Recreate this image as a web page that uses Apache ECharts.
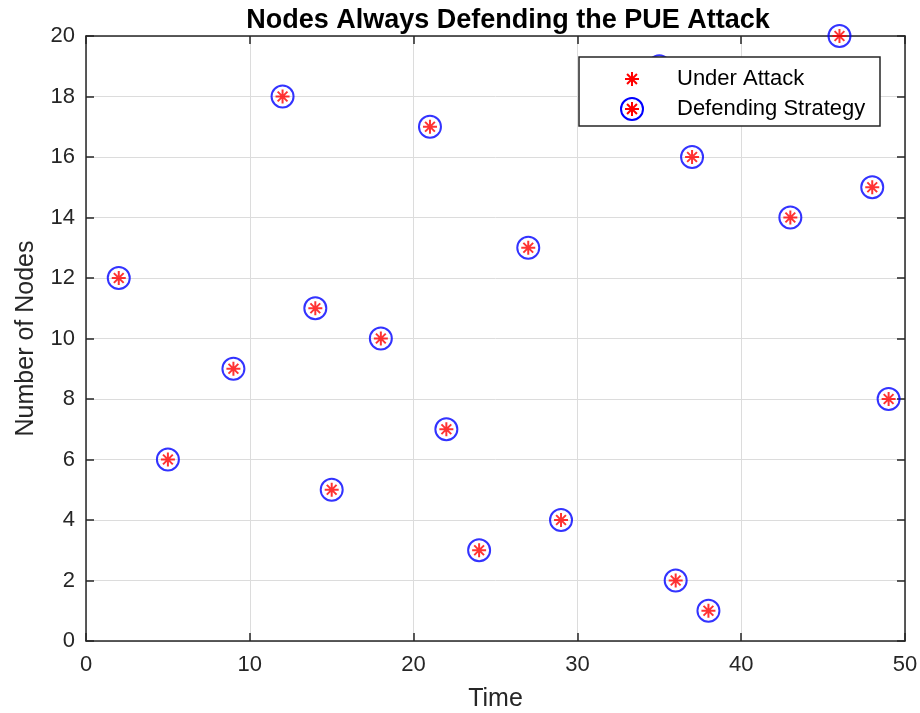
<!DOCTYPE html>
<html>
<head>
<meta charset="utf-8">
<script src="https://cdn.jsdelivr.net/npm/echarts@6/dist/echarts.min.js"></script>
<style>html,body{margin:0;padding:0;background:#fff}#c{width:920px;height:713px}</style>
</head>
<body>
<div id="c"></div>
<script>
// Time steps and the number of nodes under attack at each step
const times = [2, 5, 9, 12, 14, 15, 18, 21, 22, 24, 27, 29, 35, 36, 37, 38, 43, 46, 48, 49];
const nodes = [12, 6, 9, 18, 11, 5, 10, 17, 7, 3, 13, 4, 19, 2, 16, 1, 14, 20, 15, 8];
const xTicks = [0, 10, 20, 30, 40, 50];
const yTicks = [0, 2, 4, 6, 8, 10, 12, 14, 16, 18, 20];

const points = times.map((t, i) => [t, nodes[i]]);
const STAR = 'path://M0,-10L0,10M-10,0L10,0M-7,-7L7,7M-7,7L7,-7';
const axisColor = '#262626';
const font = 'Arial, "Liberation Sans", Helvetica, sans-serif';

// Asterisk glyph for the legend, built from four short strokes
function legendStar(cx, cy, r, z) {
  const d = r * 0.707;
  const segs = [[0, -r, 0, r], [-r, 0, r, 0], [-d, -d, d, d], [-d, d, d, -d]];
  return segs.map(s => ({
    type: 'line', z: z,
    shape: { x1: cx + s[0], y1: cy + s[1], x2: cx + s[2], y2: cy + s[3] },
    style: { stroke: '#ff0000', lineWidth: 2 }
  }));
}

const chart = echarts.init(document.getElementById('c'));
const baseX = {
  type: 'value', min: 0, max: 50, interval: 10,
  axisLine: { show: true, onZero: false, lineStyle: { color: axisColor, width: 1.5 } },
  axisTick: { show: true, inside: true, length: 8, lineStyle: { color: axisColor, width: 1.5 } },
  splitLine: { show: false }
};
const baseY = {
  type: 'value', min: 0, max: 20, interval: 2,
  axisLine: { show: true, onZero: false, lineStyle: { color: axisColor, width: 1.5 } },
  axisTick: { show: true, inside: true, length: 8, lineStyle: { color: axisColor, width: 1.5 } },
  splitLine: { show: false }
};

chart.setOption({
  animation: false,
  backgroundColor: '#fff',
  title: {
    text: 'Nodes Always Defending the PUE Attack',
    left: 503, top: 2, textAlign: 'center',
    textStyle: { fontFamily: font, fontSize: 27, fontWeight: 'bold', color: '#000' }
  },
  grid: { left: 86, right: 15, top: 36, bottom: 72, outerBoundsMode: 'none', containLabel: false },
  xAxis: [
    Object.assign({}, baseX, {
      position: 'bottom',
      name: 'Time', nameLocation: 'middle', nameGap: 46,
      nameTextStyle: { fontFamily: font, fontSize: 25, color: axisColor },
      axisLabel: { margin: 13, fontFamily: font, fontSize: 22, color: axisColor,
        formatter: v => xTicks.includes(v) ? String(v) : '' },
      splitLine: { show: true, lineStyle: { color: '#dcdcdc', width: 1 } }
    }),
    Object.assign({}, baseX, { position: 'top', axisLabel: { show: false } })
  ],
  yAxis: [
    Object.assign({}, baseY, {
      position: 'left',
      name: 'Number of Nodes', nameLocation: 'middle', nameGap: 47,
      nameTextStyle: { fontFamily: font, fontSize: 25, color: axisColor },
      axisLabel: { margin: 11, fontFamily: font, fontSize: 22, color: axisColor,
        formatter: v => yTicks.includes(v) ? String(v) : '' },
      splitLine: { show: true, lineStyle: { color: '#dcdcdc', width: 1 } }
    }),
    Object.assign({}, baseY, { position: 'right', axisLabel: { show: false } })
  ],
  series: [
    {
      name: 'Defending Strategy', type: 'scatter', data: points,
      symbol: 'circle', symbolSize: 22,
      itemStyle: { color: 'rgba(0,0,0,0)', borderColor: '#0000ff', borderWidth: 2 },
      z: 2
    },
    {
      name: 'Under Attack', type: 'scatter', data: points,
      symbol: STAR, symbolSize: 14,
      itemStyle: { color: 'rgba(0,0,0,0)', borderColor: '#ff0000', borderWidth: 2 },
      z: 3
    }
  ],
  graphic: [
    { type: 'rect', z: 100, shape: { x: 579, y: 57, width: 301, height: 69 },
      style: { fill: '#fff', stroke: axisColor, lineWidth: 1.5 } },
    ...legendStar(632, 79, 7, 101),
    { type: 'circle', z: 101, shape: { cx: 632, cy: 109, r: 11 },
      style: { fill: 'none', stroke: '#0000ff', lineWidth: 2 } },
    ...legendStar(632, 109, 7, 102),
    { type: 'text', z: 101, x: 677, y: 79,
      style: { text: 'Under Attack', font: '22px ' + font, fill: '#000', textVerticalAlign: 'middle' } },
    { type: 'text', z: 101, x: 677, y: 109,
      style: { text: 'Defending Strategy', font: '22px ' + font, fill: '#000', textVerticalAlign: 'middle' } }
  ]
});
</script>
</body>
</html>
